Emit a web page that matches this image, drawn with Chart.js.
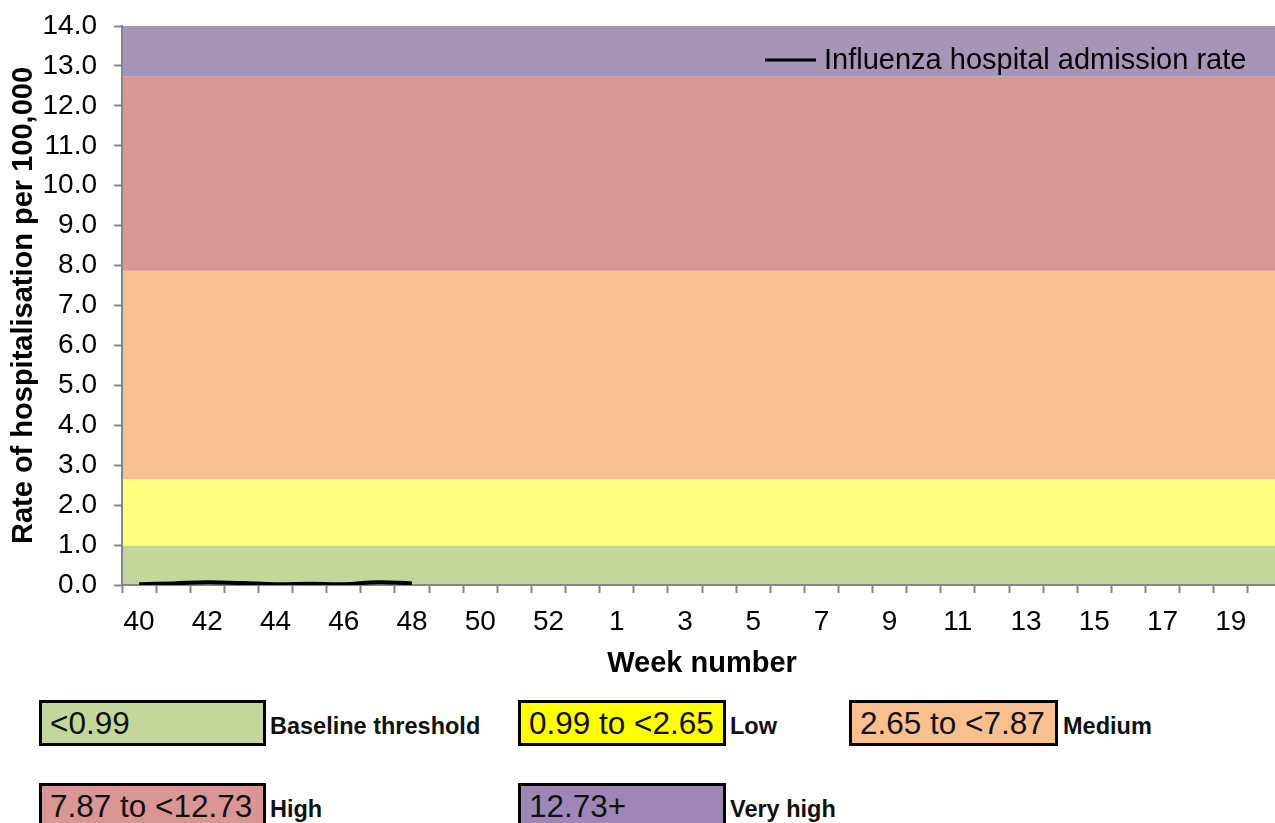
<!DOCTYPE html>
<html>
<head>
<meta charset="utf-8">
<script src="https://cdn.jsdelivr.net/npm/chart.js@4/dist/chart.umd.min.js"></script>
<style>
  html, body { margin: 0; padding: 0; background: #fff; overflow: hidden; }
  body { width: 1275px; height: 823px; position: relative; font-family: "Liberation Sans", Arial, sans-serif; }
  #wrap { position: absolute; left: 0; top: 0; width: 1282px; height: 690px; }
  .box { position: absolute; height: 40px; border: 3px solid #000; box-sizing: content-box;
         font-size: 31.5px; line-height: 41px; padding-left: 8px; color: #111; }
  .lab { position: absolute; font-size: 23.5px; font-weight: bold; color: #111; }
</style>
</head>
<body>
<div id="wrap"><canvas id="chart" width="1282" height="690"></canvas></div>

<div class="box" style="left:39px; top:700px; width:213px; background:#c4d79b;">&lt;0.99</div>
<div class="lab" style="left:270px; top:713px;">Baseline threshold</div>
<div class="box" style="left:518px; top:700px; width:194px; background:#ffff00;">0.99 to &lt;2.65</div>
<div class="lab" style="left:730px; top:713px;">Low</div>
<div class="box" style="left:849px; top:700px; width:195px; background:#fabf8f;">2.65 to &lt;7.87</div>
<div class="lab" style="left:1063px; top:713px;">Medium</div>
<div class="box" style="left:39px; top:783px; width:213px; background:#da9694;">7.87 to &lt;12.73</div>
<div class="lab" style="left:270px; top:796px;">High</div>
<div class="box" style="left:518px; top:783px; width:194px; background:#9f86b8;">12.73+</div>
<div class="lab" style="left:730px; top:796px;">Very high</div>

<script>
// weeks 40-53 then 1-20
const weeks = [40, 41, 42, 43, 44, 45, 46, 47, 48, 49, 50, 51, 52, 53,
  1, 2, 3, 4, 5, 6, 7, 8, 9, 10, 11, 12, 13, 14, 15, 16, 17, 18, 19, 20];
const admissionRate = [0.02, 0.04, 0.07, 0.05, 0.02, 0.03, 0.02, 0.07, 0.04];

// activity thresholds
const bandEdges = [0, 0.99, 2.65, 7.87, 12.73, 14];
const bandColors = ["#c4d79b", "#ffff7f", "#f9bf8f", "#da9694", "#a795b7"];

const AXIS = "#868686";
const FONT = "'Liberation Sans', Arial, sans-serif";

const bands = {
  id: "bands",
  beforeDraw(c) {
    const { ctx, chartArea: a, scales: { y } } = c;
    ctx.save();
    for (let i = 0; i < bandColors.length; i++) {
      const top = y.getPixelForValue(bandEdges[i + 1]);
      const bottom = y.getPixelForValue(bandEdges[i]);
      ctx.fillStyle = bandColors[i];
      ctx.fillRect(a.left, top, a.right - a.left, bottom - top);
    }
    ctx.restore();
  }
};

// line legend sitting inside the plot, top right
const lineKey = {
  id: "lineKey",
  afterDraw(c) {
    const ctx = c.ctx;
    ctx.save();
    ctx.strokeStyle = "#000";
    ctx.lineWidth = 3;
    ctx.beginPath();
    ctx.moveTo(765, 60);
    ctx.lineTo(816, 60);
    ctx.stroke();
    ctx.fillStyle = "#000";
    ctx.font = "29px " + FONT;
    ctx.textBaseline = "middle";
    ctx.fillText(c.data.datasets[0].label, 824, 61);
    ctx.restore();
  }
};

new Chart(document.getElementById("chart"), {
  type: "line",
  data: {
    labels: weeks,
    datasets: [{
      label: "Influenza hospital admission rate",
      data: admissionRate,
      borderColor: "#000",
      borderWidth: 4,
      pointRadius: 0,
      tension: 0.4,
      fill: false
    }]
  },
  options: {
    responsive: false,
    animation: false,
    layout: { padding: { top: 26, right: 0, bottom: 0, left: 0 } },
    plugins: { legend: { display: false }, tooltip: { enabled: false } },
    scales: {
      x: {
        offset: true,
        grid: { offset: true, drawOnChartArea: false, tickLength: 8, color: AXIS, tickWidth: 2 },
        border: { color: AXIS, width: 2 },
        ticks: {
          autoSkip: false, maxRotation: 0, padding: 12, color: "#000",
          font: { family: FONT, size: 28 },
          callback: (v, i) => (i % 2 === 0 ? weeks[i] : "")
        },
        title: {
          display: true, text: "Week number", color: "#000",
          font: { family: FONT, size: 29, weight: "bold" }, padding: { top: 0, bottom: 9 }
        },
        afterFit: s => { s.height = 105; s.paddingLeft = 0; s.paddingRight = 0; }
      },
      y: {
        min: 0, max: 14,
        grid: { drawOnChartArea: false, tickLength: 8, color: AXIS, tickWidth: 2 },
        border: { color: AXIS, width: 2 },
        ticks: {
          stepSize: 1, padding: 17, color: "#000",
          font: { family: FONT, size: 28 },
          callback: v => v.toFixed(1)
        },
        title: {
          display: true, text: "Rate of hospitalisation per 100,000", color: "#000",
          font: { family: FONT, size: 29, weight: "bold" }, padding: { top: 7, bottom: 0 }
        },
        afterFit: s => { s.width = 122; s.paddingTop = 0; s.paddingBottom = 0; }
      }
    }
  },
  plugins: [bands, lineKey]
});
</script>
</body>
</html>
